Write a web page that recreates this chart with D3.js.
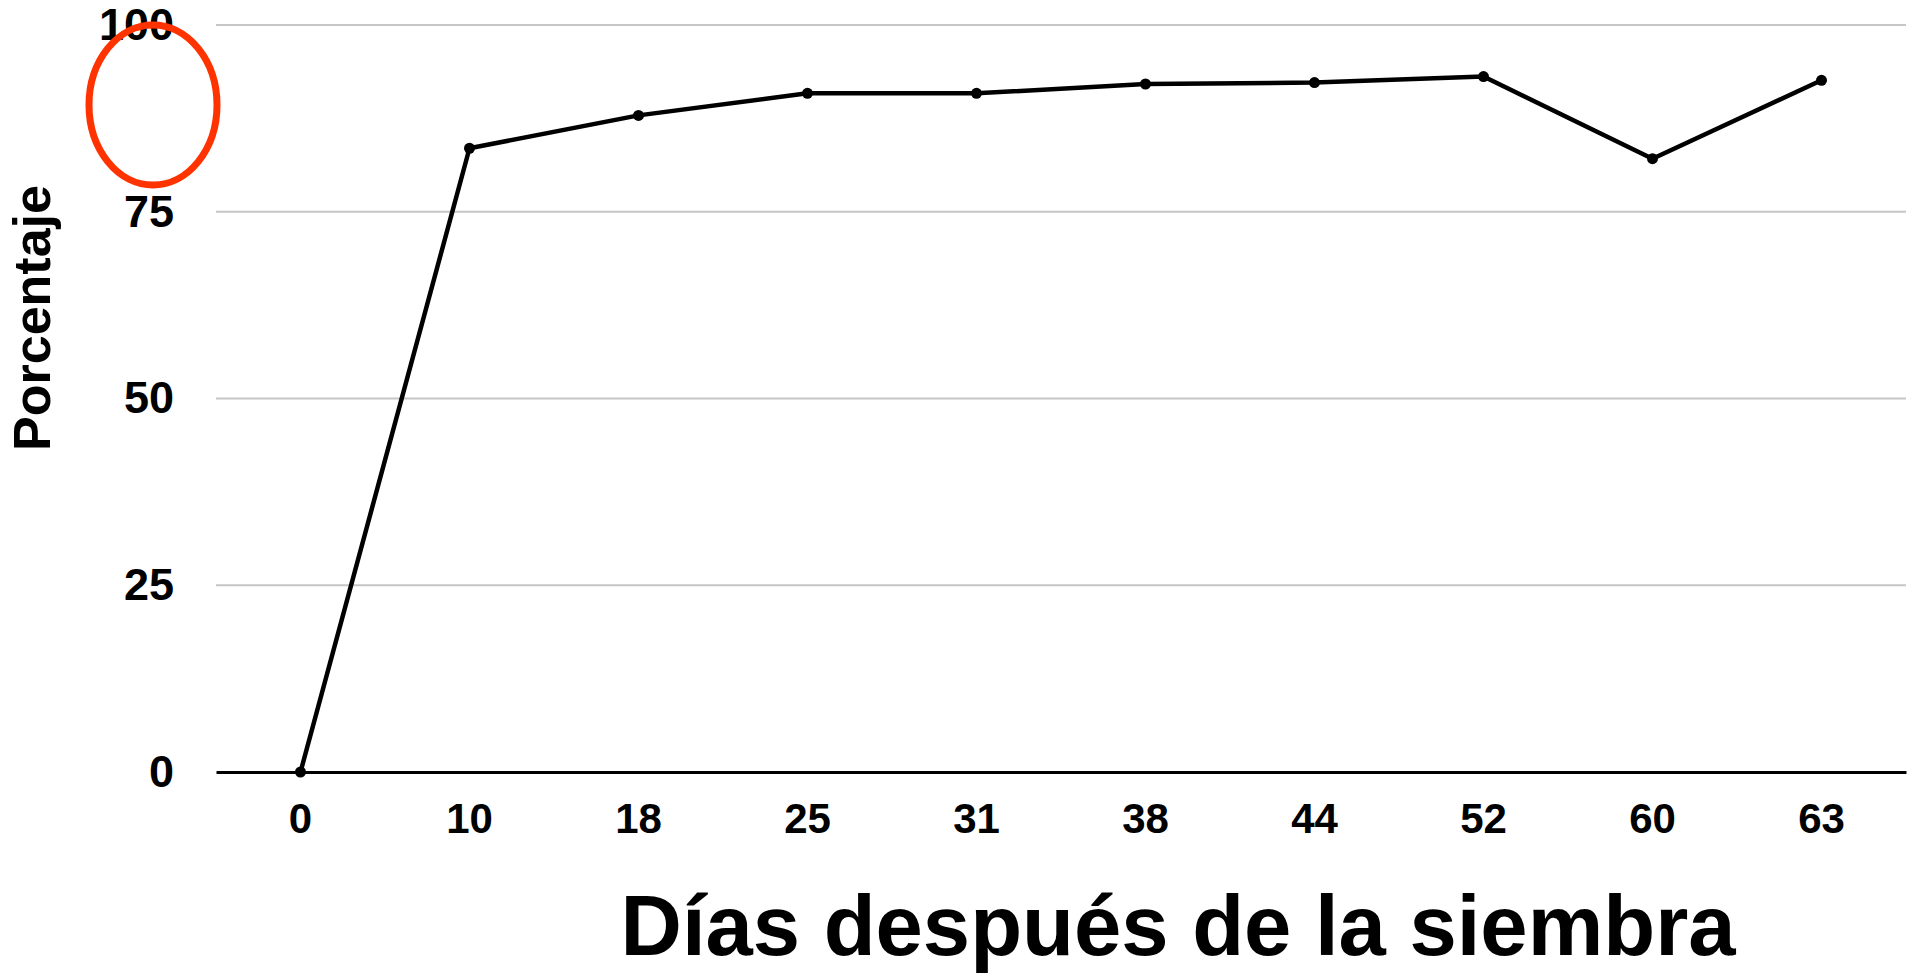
<!DOCTYPE html>
<html><head><meta charset="utf-8">
<script src="https://cdn.jsdelivr.net/npm/d3@7"></script>
<style>html,body{margin:0;padding:0;background:#fff;overflow:hidden}</style>
</head><body>
<svg id="chart" width="1912" height="973"></svg>
<script>
const categories = ["0","10","18","25","31","38","44","52","60","63"];
const values = [0, 83.5, 87.9, 90.85, 90.85, 92.1, 92.3, 93.1, 82.1, 92.6];
const yTicks = [0, 25, 50, 75, 100];
const xTitle = "Días después de la siembra";
const yTitle = "Porcentaje";

const svg = d3.select("#chart");
const font = "'Liberation Sans', Arial, Helvetica, sans-serif";
const mLeft = 216, mRight = 1906, mTop = 25, mBottom = 772;

const x = d3.scaleBand().domain(categories).range([mLeft, mRight]).padding(0);
const y = d3.scaleLinear().domain([0, 100]).range([mBottom, mTop]);
const cx = d => x(d) + x.bandwidth() / 2;

// gridlines
svg.append("g").selectAll("line").data(yTicks.filter(t => t > 0)).join("line")
  .attr("x1", mLeft).attr("x2", mRight)
  .attr("y1", d => y(d)).attr("y2", d => y(d))
  .attr("stroke", "#c6c6c6").attr("stroke-width", 2);

// x axis
const xAxis = svg.append("g").attr("transform", `translate(0,${y(0)})`)
  .call(d3.axisBottom(x).tickSize(0).tickPadding(31));
xAxis.select(".domain").attr("stroke", "#000").attr("stroke-width", 3);
xAxis.selectAll("text").attr("font-family", font).attr("font-weight", "bold")
  .attr("font-size", 42).attr("fill", "#000");

// y axis
const yAxis = svg.append("g").attr("transform", `translate(${mLeft},0)`)
  .call(d3.axisLeft(y).tickValues(yTicks).tickSize(0).tickPadding(42));
yAxis.select(".domain").remove();
yAxis.selectAll("text").attr("font-family", font).attr("font-weight", "bold")
  .attr("font-size", 45).attr("fill", "#000");

// line
const data = categories.map((c, i) => ({c, v: values[i]}));
svg.append("path").datum(data)
  .attr("fill", "none").attr("stroke", "#000").attr("stroke-width", 4.5)
  .attr("stroke-linejoin", "round")
  .attr("d", d3.line().x(d => cx(d.c)).y(d => y(d.v)));
svg.append("g").selectAll("circle").data(data).join("circle")
  .attr("cx", d => cx(d.c)).attr("cy", d => y(d.v)).attr("r", 5.5).attr("fill", "#000");

// titles
svg.append("text").attr("x", 1178).attr("y", 955)
  .attr("text-anchor", "middle").attr("font-family", font).attr("font-weight", "bold")
  .attr("font-size", 85).attr("fill", "#000").text(xTitle);
svg.append("text").attr("transform", "translate(50,318) rotate(-90)")
  .attr("text-anchor", "middle").attr("font-family", font).attr("font-weight", "bold")
  .attr("font-size", 52).attr("fill", "#000").text(yTitle);

// red annotation ellipse
svg.append("ellipse").attr("cx", 153).attr("cy", 105).attr("rx", 64).attr("ry", 80)
  .attr("fill", "none").attr("stroke", "#ff3300").attr("stroke-width", 7);
</script>
</body></html>
